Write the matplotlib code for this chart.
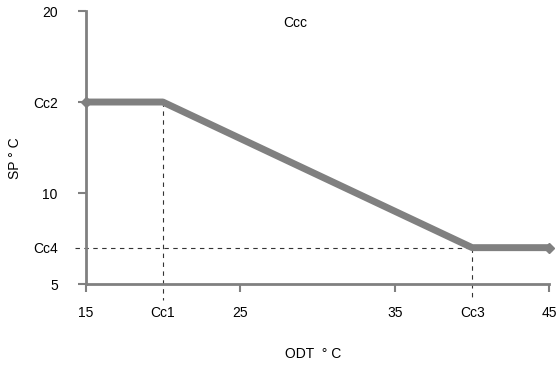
import matplotlib
matplotlib.use('Agg')
import matplotlib.pyplot as plt

plt.rcParams['font.family'] = ['Liberation Sans', 'DejaVu Sans']

# Setpoint curve: outdoor temperature vs setpoint
odt = [15, 20, 40, 45]
sp = [15, 15, 7, 7]

# Tick positions and labels
x_ticks = [15, 20, 25, 35, 40, 45]
x_labels = ['15', 'Cc1', '25', '35', 'Cc3', '45']
y_ticks = [5, 7, 10, 15, 20]
y_labels = ['5', 'Cc4', '10', 'Cc2', '20']

grey = '#808080'

fig = plt.figure(figsize=(5.59, 3.67), dpi=100)
ax = fig.add_axes([0.153, 0.226, 0.83, 0.744])

ax.plot(odt, sp, color=grey, linewidth=5, marker='D', markersize=5,
        markevery=[0, len(odt) - 1], solid_capstyle='butt', clip_on=False, zorder=3)

# Dashed guide lines that run past the axes like ticks
dash = dict(color='#333333', linestyle=(0, (4, 4)), linewidth=0.8, clip_on=False, zorder=2)
ax.plot([odt[1], odt[1]], [sp[1], 4.1], **dash)
ax.plot([odt[2], odt[2]], [sp[2], 4.1], **dash)
ax.plot([14.35, odt[2]], [sp[2], sp[2]], **dash)

ax.set_xlim(15, 45)
ax.set_ylim(5, 20)
ax.set_xticks(x_ticks)
ax.set_xticklabels(x_labels)
ax.set_yticks(y_ticks)
ax.set_yticklabels(y_labels)

for side in ['top', 'right']:
    ax.spines[side].set_visible(False)
for side in ['left', 'bottom']:
    ax.spines[side].set_color(grey)
    ax.spines[side].set_linewidth(2)

ax.tick_params(axis='both', colors=grey, width=1.5, length=6, labelcolor='black', labelsize=10)
ax.tick_params(axis='x', pad=10)
ax.tick_params(axis='y', pad=14)
ax.xaxis.get_major_ticks()[1].tick1line.set_visible(False)
ax.xaxis.get_major_ticks()[4].tick1line.set_visible(False)
ax.yaxis.get_major_ticks()[1].tick1line.set_visible(False)

ax.set_xlabel('ODT  ° C', fontsize=10)
ax.set_ylabel('SP ° C', fontsize=10)
ax.xaxis.set_label_coords(0.49, -0.232)
ax.yaxis.set_label_coords(-0.137, 0.46)
ax.text(0.528, 0.956, 'Ccc', transform=fig.transFigure, ha='center', va='top', fontsize=10)

fig.savefig('out.png', dpi=100)
